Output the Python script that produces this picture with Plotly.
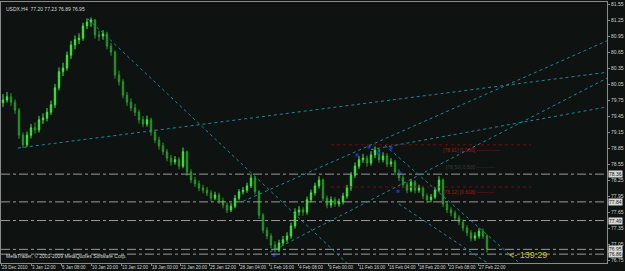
import plotly.graph_objects as go

# ---------------- data ----------------
OPEN = [79.70, 79.75, 79.81, 79.71, 79.56, 79.09, 78.91, 79.09, 79.23, 79.19,
        79.38, 79.41, 79.52, 79.66, 79.98, 80.28, 80.35, 80.59, 80.78, 80.88,
        80.91, 81.14, 81.21, 81.25, 80.97, 80.95, 80.99, 80.76, 80.65, 80.22,
        80.09, 79.84, 79.71, 79.60, 79.52, 79.38, 79.30, 79.38, 79.15, 79.00,
        78.89, 78.78, 78.66, 78.59, 78.63, 78.51, 78.78, 78.40, 78.25, 78.18,
        78.10, 78.06, 78.01, 77.91, 77.97, 77.86, 77.78, 77.69, 77.76, 77.91,
        78.03, 78.06, 78.14, 78.29, 78.03, 77.59, 77.31, 77.20, 77.03, 76.94,
        77.07, 77.13, 77.20, 77.39, 77.65, 77.69, 77.65, 77.88, 78.01, 78.14,
        78.25, 77.91, 77.78, 77.88, 77.80, 77.84, 77.95, 78.10, 78.34, 78.51,
        78.63, 78.66, 78.57, 78.72, 78.81, 78.63, 78.70, 78.55, 78.59, 78.40,
        78.29, 78.16, 78.06, 78.21, 78.06, 78.10, 77.95, 77.88, 77.93, 78.06,
        78.25, 77.80, 77.69, 77.63, 77.54, 77.46, 77.35, 77.26, 77.16, 77.20,
        77.29, 77.20]
HIGH = [79.86, 79.90, 79.88, 79.76, 79.60, 79.14, 79.16, 79.30, 79.33, 79.45,
        79.50, 79.60, 79.74, 80.05, 80.36, 80.45, 80.66, 80.86, 80.96, 81.00,
        81.20, 81.28, 81.30, 81.27, 81.05, 81.06, 81.03, 80.82, 80.68, 80.30,
        80.14, 79.90, 79.78, 79.68, 79.57, 79.45, 79.46, 79.42, 79.20, 79.06,
        78.95, 78.83, 78.72, 78.70, 78.68, 78.86, 78.80, 78.45, 78.31, 78.24,
        78.16, 78.12, 78.06, 78.03, 78.01, 77.92, 77.83, 77.82, 77.97, 78.08,
        78.12, 78.20, 78.36, 78.32, 78.06, 77.63, 77.37, 77.25, 77.10, 77.13,
        77.20, 77.27, 77.45, 77.72, 77.76, 77.74, 77.94, 78.07, 78.20, 78.32,
        78.28, 77.96, 77.94, 77.93, 77.90, 78.01, 78.16, 78.40, 78.58, 78.70,
        78.74, 78.71, 78.79, 78.88, 78.84, 78.77, 78.75, 78.66, 78.63, 78.45,
        78.34, 78.21, 78.27, 78.25, 78.16, 78.14, 78.00, 77.99, 78.12, 78.32,
        78.28, 77.85, 77.74, 77.68, 77.59, 77.51, 77.40, 77.31, 77.27, 77.35,
        77.34, 77.23]
LOW = [79.62, 79.70, 79.64, 79.49, 79.02, 78.85, 78.87, 79.03, 79.12, 79.14,
       79.30, 79.35, 79.47, 79.60, 79.93, 80.20, 80.30, 80.52, 80.70, 80.80,
       80.86, 81.08, 81.12, 80.90, 80.86, 80.88, 80.70, 80.58, 80.15, 80.02,
       79.78, 79.64, 79.54, 79.45, 79.31, 79.24, 79.25, 79.08, 78.94, 78.82,
       78.72, 78.60, 78.52, 78.54, 78.45, 78.47, 78.33, 78.19, 78.12, 78.04,
       78.00, 77.95, 77.85, 77.87, 77.80, 77.72, 77.63, 77.65, 77.72, 77.87,
       77.98, 78.01, 78.10, 77.98, 77.52, 77.25, 77.14, 76.97, 76.89, 76.90,
       77.02, 77.08, 77.15, 77.34, 77.58, 77.58, 77.60, 77.83, 77.96, 78.09,
       77.85, 77.72, 77.73, 77.75, 77.75, 77.79, 77.90, 78.05, 78.29, 78.46,
       78.57, 78.50, 78.52, 78.66, 78.57, 78.58, 78.49, 78.50, 78.34, 78.23,
       78.10, 78.00, 78.02, 78.00, 78.01, 77.89, 77.82, 77.83, 77.89, 78.02,
       77.74, 77.63, 77.57, 77.48, 77.40, 77.29, 77.20, 77.10, 77.11, 77.15,
       77.15, 76.89]
CLOSE = [79.75, 79.81, 79.71, 79.56, 79.09, 78.91, 79.09, 79.23, 79.19, 79.38,
         79.41, 79.52, 79.66, 79.98, 80.28, 80.35, 80.59, 80.78, 80.88, 80.91,
         81.14, 81.21, 81.25, 80.97, 80.95, 80.99, 80.76, 80.65, 80.22, 80.09,
         79.84, 79.71, 79.60, 79.52, 79.38, 79.30, 79.38, 79.15, 79.00, 78.89,
         78.78, 78.66, 78.59, 78.63, 78.51, 78.78, 78.40, 78.25, 78.18, 78.10,
         78.06, 78.01, 77.91, 77.97, 77.86, 77.78, 77.69, 77.76, 77.91, 78.03,
         78.06, 78.14, 78.29, 78.03, 77.59, 77.31, 77.20, 77.03, 76.94, 77.07,
         77.13, 77.20, 77.39, 77.65, 77.69, 77.65, 77.88, 78.01, 78.14, 78.25,
         77.91, 77.78, 77.88, 77.80, 77.84, 77.95, 78.10, 78.34, 78.51, 78.63,
         78.66, 78.57, 78.72, 78.81, 78.63, 78.70, 78.55, 78.59, 78.40, 78.29,
         78.16, 78.06, 78.21, 78.06, 78.10, 77.95, 77.88, 77.93, 78.06, 78.25,
         77.80, 77.69, 77.63, 77.54, 77.46, 77.35, 77.26, 77.16, 77.20, 77.29,
         77.20, 76.95]
BARS = list(range(len(CLOSE)))

TIME_LABELS = ["29 Dec 2010", "3 Jan 12:00", "6 Jan 08:00", "10 Jan 20:00",
               "13 Jan 12:00", "18 Jan 00:00", "21 Jan 20:00", "25 Jan 12:00",
               "28 Jan 04:00", "1 Feb 16:00", "4 Feb 08:00", "9 Feb 00:00",
               "11 Feb 16:00", "16 Feb 04:00", "18 Feb 20:00", "23 Feb 08:00",
               "27 Feb 22:00"]
TIME_BARS = [-0.5, 7.0, 14.5, 22.0, 29.5, 37.0, 44.25, 51.5, 59.0, 66.5,
             73.75, 81.25, 88.75, 96.25, 103.75, 111.25, 118.75]

PRICE_TICKS = [76.75, 77.05, 77.35, 77.65, 77.95, 78.25, 78.55, 78.85,
               79.15, 79.45, 79.75, 80.05, 80.35, 80.65, 80.95, 81.25, 81.55]

H_LEVELS = [78.36, 77.84, 77.49, 76.95, 76.86]

# trend lines: (bar0, price0, bar1, price1)
TRENDLINES = [
    (21.25, 81.27, 86.0, 76.69),
    (3.75, 78.85, 151.0, 80.27),
    (66.75, 76.90, 151.0, 80.16),
    (60.0, 77.85, 151.0, 80.86),
    (92.0, 78.82, 151.0, 79.62),
    (95.5, 78.90, 129.0, 76.70),
    (99.0, 77.80, 121.0, 76.70),
]

# red dotted levels with their captions
RED_LEVELS = [78.91, 78.12]
RED_TEXTS = ["[78.91] [1.000] --------------", "[78.12] [0.618] -----------"]
GREY_LEVEL = 78.50
GREY_TEXT = "[78.50] 0.500 -----------"

MARK_BARS = [88.5, 91.5, 93.75, 97.0, 99.25, 98.75, 67.75]
MARK_PRICES = [78.72, 78.87, 78.76, 78.85, 78.38, 78.04, 76.84]

TIMER_TEXT = "<- 139:29"

# ---------------- figure ----------------
BG = "#0e1210"
FONT = "Liberation Sans"

fig = go.Figure()
fig.add_trace(go.Candlestick(
    x=BARS, open=OPEN, high=HIGH, low=LOW, close=CLOSE,
    increasing=dict(line=dict(color="#3fe63f", width=1), fillcolor="#3fe63f"),
    decreasing=dict(line=dict(color="#2a9a2a", width=1), fillcolor="#17602a"),
    whiskerwidth=0, showlegend=False, hoverinfo="skip",
))
fig.add_trace(go.Scatter(
    x=MARK_BARS, y=MARK_PRICES, mode="markers",
    marker=dict(color="#1a2fd0", size=3, symbol="square"),
    showlegend=False, hoverinfo="skip",
))

shapes = []
for lv in H_LEVELS:
    shapes.append(dict(type="line", xref="paper", x0=0, x1=1, yref="y", y0=lv, y1=lv,
                       line=dict(color="#9a9a9a", width=1, dash="dashdot")))
for lv in RED_LEVELS:
    shapes.append(dict(type="line", xref="x", x0=82, x1=132, yref="y", y0=lv, y1=lv,
                       line=dict(color="#6a1010", width=1, dash="dot")))
for b0, p0, b1, p1 in TRENDLINES:
    shapes.append(dict(type="line", xref="x", yref="y", x0=b0, y0=p0, x1=b1, y1=p1,
                       line=dict(color="#1b8a9a", width=1, dash="dot")))
fig.update_layout(shapes=shapes)

ann = []
for lv in H_LEVELS:
    ann.append(dict(xref="paper", x=1, xanchor="left", xshift=1, yref="y", y=lv,
                    yanchor="middle", text=f"{lv:.2f}", showarrow=False,
                    bgcolor="#d8d8d8", borderpad=0,
                    font=dict(family=FONT, size=5, color="#101010")))
for lv, t in zip(RED_LEVELS, RED_TEXTS):
    ann.append(dict(xref="x", x=109.5, xanchor="left", yref="y", y=lv, yanchor="top",
                    text=t, showarrow=False,
                    font=dict(family=FONT, size=5, color="#a81818")))
ann.append(dict(xref="x", x=110.3, xanchor="left", yref="y", y=GREY_LEVEL, yanchor="middle",
                text=GREY_TEXT, showarrow=False,
                font=dict(family=FONT, size=5, color="#3a3e3c")))
ann.append(dict(xref="paper", x=0, y=1, yref="paper", xanchor="left", yanchor="top",
                xshift=3, yshift=-2, showarrow=False,
                text=f"USDX,H4  {OPEN[-1]:.2f} {HIGH[-1]:.2f} {LOW[-1]:.2f} {CLOSE[-1]:.2f}",
                font=dict(family=FONT, size=5, color="#d8d8d8")))
ann.append(dict(xref="paper", x=0, y=0, yref="paper", xanchor="left", yanchor="bottom",
                xshift=3, yshift=2, showarrow=False,
                text="MetaTrader, © 2001-2009 MetaQuotes Software Corp.",
                font=dict(family=FONT, size=5, color="#d8d8d8")))
ann.append(dict(xref="x", x=BARS[-1] + 5, y=CLOSE[-1] - 0.1, xanchor="left",
                yanchor="middle", showarrow=False, text=TIMER_TEXT,
                font=dict(family=FONT, size=9, color="#c8c410")))
fig.update_layout(annotations=ann)

fig.update_layout(
    width=625, height=271,
    margin=dict(l=1, r=18, t=2, b=8),
    paper_bgcolor=BG, plot_bgcolor=BG,
    boxgap=0.5,
    xaxis=dict(range=[-0.5, 151], showgrid=False, zeroline=False,
               rangeslider=dict(visible=False), automargin=False,
               showline=True, mirror=True, linecolor="#8a8a8a", linewidth=1,
               tickvals=TIME_BARS, ticktext=TIME_LABELS, tickangle=0,
               ticks="outside", ticklen=2, tickcolor="#8a8a8a",
               ticklabelposition="outside right",
               tickfont=dict(family=FONT, size=4.5, color="#d0d0d0")),
    yaxis=dict(range=[76.694, 81.5875], side="right", showgrid=False, zeroline=False,
               automargin=False,
               showline=True, mirror=True, linecolor="#8a8a8a", linewidth=1,
               tickvals=PRICE_TICKS, ticktext=[f"{t:.2f}" for t in PRICE_TICKS],
               ticks="outside", ticklen=2, tickcolor="#8a8a8a",
               tickfont=dict(family=FONT, size=5, color="#d0d0d0")),
)

fig.write_html("out.html")
